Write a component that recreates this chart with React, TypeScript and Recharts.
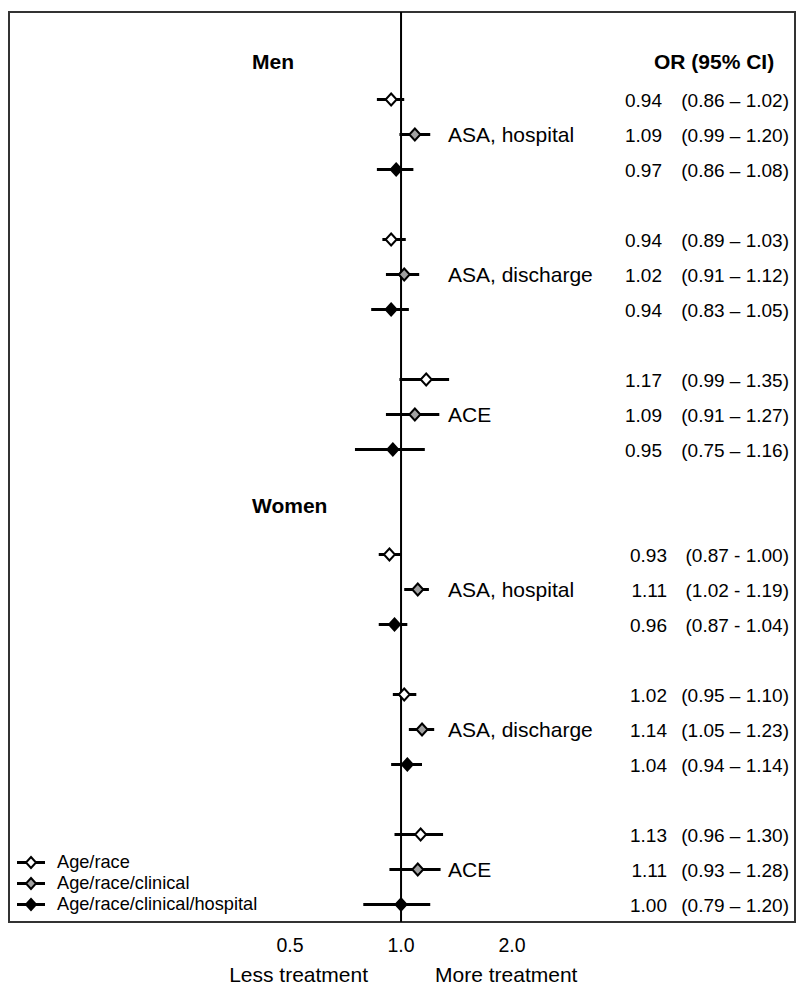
import {
  ScatterChart, Scatter, XAxis, YAxis, ErrorBar, ReferenceLine, ReferenceArea, Legend,
} from 'recharts';

const sexes = ['Men', 'Women'];
const outcomes = ['ASA, hospital', 'ASA, discharge', 'ACE'];
const models = ['Age/race', 'Age/race/clinical', 'Age/race/clinical/hospital'];

// section order: Men ASA hospital, Men ASA discharge, Men ACE,
//                Women ASA hospital, Women ASA discharge, Women ACE
const orAgeRace = [0.94, 0.94, 1.17, 0.93, 1.02, 1.13];
const lowAgeRace = [0.86, 0.89, 0.99, 0.87, 0.95, 0.96];
const highAgeRace = [1.02, 1.03, 1.35, 1.00, 1.10, 1.30];

const orClinical = [1.09, 1.02, 1.09, 1.11, 1.14, 1.11];
const lowClinical = [0.99, 0.91, 0.91, 1.02, 1.05, 0.93];
const highClinical = [1.20, 1.12, 1.27, 1.19, 1.23, 1.28];

const orHospital = [0.97, 0.94, 0.95, 0.96, 1.04, 1.00];
const lowHospital = [0.86, 0.83, 0.75, 0.87, 0.94, 0.79];
const highHospital = [1.08, 1.05, 1.16, 1.04, 1.14, 1.20];

const ciDash = ['–', '–', '–', '-', '–', '–'];

// y positions (row units, top = 0)
const sectionRow = [2.5, 6.5, 10.5, 15.5, 19.5, 23.5];
const headingRow = [1.4, 14.1];

const xTicks = [0.5, 1, 2];
const xTickLabels = ['0.5', '1.0', '2.0'];

const MODEL_FILLS = ['#ffffff', '#a0a0a0', '#000000'];
const FONT = '"Liberation Sans", Arial, Helvetica, sans-serif';
const X_DOMAIN = [0.0865, 11.7];
const OR_RIGHT = [662, 667];
const CI_RIGHT = 789;
const LABEL_X = 448;

const values = [
  { or: orAgeRace, low: lowAgeRace, high: highAgeRace },
  { or: orClinical, low: lowClinical, high: highClinical },
  { or: orHospital, low: lowHospital, high: highHospital },
];

const series = models.map((name, m) =>
  sectionRow.map((row, s) => {
    const or = values[m].or[s];
    const low = values[m].low[s];
    const high = values[m].high[s];
    return {
      or,
      y: row + m,
      err: [or - low, high - or],
      ci: `(${low.toFixed(2)} ${ciDash[s]} ${high.toFixed(2)})`,
      section: s,
      model: m,
    };
  }),
);

function diamondPoints(cx: number, cy: number, w = 5.5, h = 6) {
  return `${cx},${cy - h} ${cx + w},${cy} ${cx},${cy + h} ${cx - w},${cy}`;
}

function RowMark(props: any) {
  const { cx, cy, payload } = props;
  if (cx == null || cy == null) return null;
  const sex = payload.section < 3 ? 0 : 1;
  return (
    <g>
      <polygon points={diamondPoints(cx, cy)} fill={MODEL_FILLS[payload.model]} stroke="#000" strokeWidth={2} />
      <text x={OR_RIGHT[sex]} y={cy + 7} textAnchor="end" fontSize={19} fill="#000">
        {payload.or.toFixed(2)}
      </text>
      <text x={CI_RIGHT} y={cy + 7} textAnchor="end" fontSize={19} fill="#000">
        {payload.ci}
      </text>
      {payload.model === 1 && (
        <text x={LABEL_X} y={cy + 7.5} fontSize={21} fill="#000">
          {outcomes[payload.section % 3]}
        </text>
      )}
    </g>
  );
}

function AxisTick({ x, y, payload }: any) {
  const i = xTicks.indexOf(payload.value);
  return (
    <g>
      <text x={x} y={y + 30} textAnchor="middle" fontSize={19.5} fill="#000">{xTickLabels[i]}</text>
      {payload.value === 1 && (
        <>
          <text x={x - 33} y={y + 60} textAnchor="end" fontSize={21} fill="#000">Less treatment</text>
          <text x={x + 34} y={y + 60} textAnchor="start" fontSize={21} fill="#000">More treatment</text>
        </>
      )}
    </g>
  );
}

function Heading({ viewBox, text, withOR }: any) {
  const y = viewBox.y + 7.5;
  return (
    <g fontWeight="bold" fontSize={21} fill="#000">
      <text x={252} y={y}>{text}</text>
      {withOR && <text x={654} y={y}>OR (95% CI)</text>}
    </g>
  );
}

function LegendContent() {
  return (
    <div style={{ fontSize: 18.2, fontFamily: FONT, color: '#000' }}>
      {models.map((name, i) => (
        <div key={name} style={{ display: 'flex', alignItems: 'center', height: 21 }}>
          <svg width={48} height={21} style={{ display: 'block' }}>
            <line x1={17} x2={45} y1={10.5} y2={10.5} stroke="#000" strokeWidth={3} />
            <polygon points={diamondPoints(31, 10.5, 5, 5.5)} fill={MODEL_FILLS[i]} stroke="#000" strokeWidth={2} />
          </svg>
          <span style={{ marginLeft: 9, whiteSpace: 'nowrap' }}>{name}</span>
        </div>
      ))}
    </div>
  );
}

export default function App() {
  return (
    <div style={{ position: 'absolute', left: 0, top: 0, background: '#fff', fontFamily: FONT }}>
      <ScatterChart width={800} height={993} margin={{ top: 12, right: 5, bottom: 0, left: 9 }}>
        <XAxis
          type="number"
          dataKey="or"
          scale="log"
          domain={X_DOMAIN}
          allowDataOverflow
          ticks={xTicks}
          tick={<AxisTick />}
          tickSize={0}
          tickMargin={0}
          axisLine={false}
          tickLine={false}
          height={71}
        />
        <YAxis type="number" dataKey="y" domain={[0, 26]} reversed hide />
        <ReferenceArea
          x1={X_DOMAIN[0]}
          x2={X_DOMAIN[1]}
          y1={0}
          y2={26}
          fill="none"
          fillOpacity={0}
          stroke="#333"
          strokeWidth={2}
          ifOverflow="visible"
        />
        <ReferenceLine x={1} stroke="#000" strokeWidth={2} />
        {sexes.map((sex, i) => (
          <ReferenceLine
            key={sex}
            y={headingRow[i]}
            stroke="none"
            label={<Heading text={sex} withOR={i === 0} />}
          />
        ))}
        {series.map((data, m) => (
          <Scatter
            key={models[m]}
            name={models[m]}
            data={data}
            fill={MODEL_FILLS[m]}
            shape={<RowMark />}
            isAnimationActive={false}
          >
            <ErrorBar dataKey="err" direction="x" width={0} stroke="#000" strokeWidth={3} />
          </Scatter>
        ))}
        <Legend
          layout="horizontal"
          verticalAlign="middle"
          align="center"
          content={<LegendContent />}
          wrapperStyle={{ left: 0, top: 852, width: 300 }}
        />
      </ScatterChart>
    </div>
  );
}
